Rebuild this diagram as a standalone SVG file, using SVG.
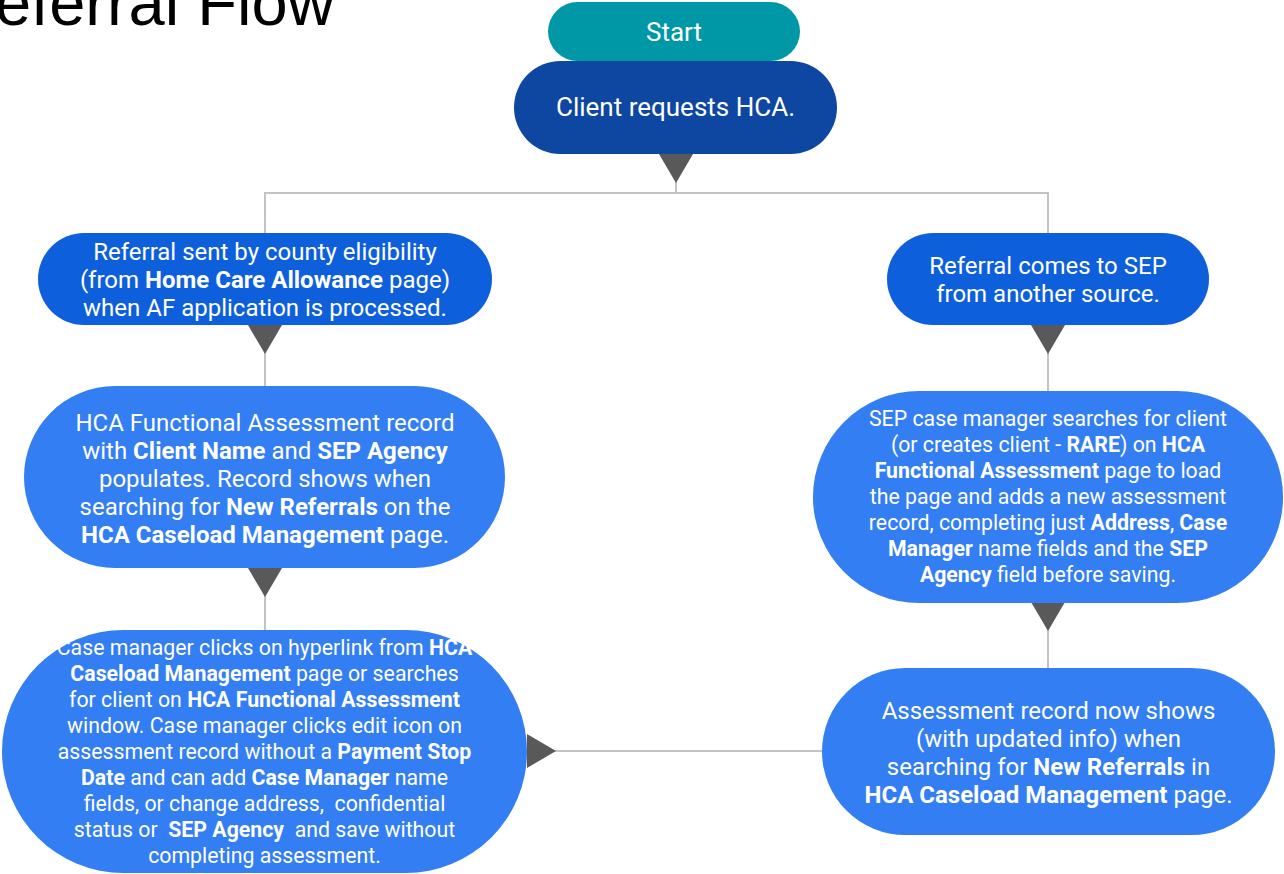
<svg xmlns="http://www.w3.org/2000/svg" width="1284" height="874" viewBox="0 0 1284 874">
<style>
.title{font-family:"Liberation Sans",Arial,sans-serif;font-size:65px;fill:#000}
.t{font-family:Roboto,"Noto Sans",sans-serif;fill:#fff;text-anchor:middle}
.s26{font-size:26px}
.s24{font-size:24px}
.s21{font-size:21.3px}
.b{font-weight:bold}
.conn{fill:none;stroke:#c3c3c3;stroke-width:2}
.start{fill:#0097a7}
.dark{fill:#0d47a1}
.mid{fill:#0e5fdc}
.light{fill:#327ef2}
</style>
<defs>
<marker id="tri" viewBox="0 0 29 34" refX="0" refY="17" markerWidth="29" markerHeight="34" orient="auto" markerUnits="userSpaceOnUse">
<path d="M0,0 L29,17 L0,34 Z" fill="#595959"/>
</marker>
</defs>
<rect width="1284" height="874" fill="#fff"/>
<text class="title" x="-52" y="25">Referral Flow</text>

<g id="connectors">
<path class="conn" d="M676,154 V193 H265 V233" marker-start="url(#tri)"/>
<path class="conn" d="M676,193 H1048 V233"/>
<path class="conn" d="M265,325 V386" marker-start="url(#tri)"/>
<path class="conn" d="M265,568 V630" marker-start="url(#tri)"/>
<path class="conn" d="M1048,325 V391" marker-start="url(#tri)"/>
<path class="conn" d="M1048,602 V668" marker-start="url(#tri)"/>
<path class="conn" d="M527,751 H822" marker-start="url(#tri)"/>
</g>

<g id="start">
<rect class="start" x="548" y="2" width="252" height="59" rx="29.5"/>
<text class="t s26" x="674" y="41">Start</text>
</g>

<g id="client-requests">
<rect class="dark" x="514" y="61" width="323" height="93" rx="46.5"/>
<text class="t s26" x="675.5" y="116">Client requests HCA.</text>
</g>

<g id="referral-county">
<rect class="mid" x="38" y="233" width="454" height="92" rx="46"/>
<text class="t s24" x="265" y="260">Referral sent by county eligibility</text>
<text class="t s24" x="265" y="288">(from <tspan class="b">Home Care Allowance</tspan> page)</text>
<text class="t s24" x="265" y="316">when AF application is processed.</text>
</g>

<g id="hca-record">
<rect class="light" x="24" y="386" width="481" height="182" rx="91"/>
<text class="t s24" x="265" y="431">HCA Functional Assessment record</text>
<text class="t s24" x="265" y="459">with <tspan class="b">Client Name</tspan> and <tspan class="b">SEP Agency</tspan></text>
<text class="t s24" x="265" y="487">populates. Record shows when</text>
<text class="t s24" x="265" y="515">searching for <tspan class="b">New Referrals</tspan> on the</text>
<text class="t s24" x="265" y="543"><tspan class="b">HCA Caseload Management</tspan> page.</text>
</g>

<g id="case-manager-clicks">
<rect class="light" x="2" y="630" width="525" height="243" rx="121.5"/>
<text class="t s21" x="264.5" y="655">Case manager clicks on hyperlink from <tspan class="b">HCA</tspan></text>
<text class="t s21" x="264.5" y="681"><tspan class="b">Caseload Management</tspan> page or searches</text>
<text class="t s21" x="264.5" y="707">for client on <tspan class="b">HCA Functional Assessment</tspan></text>
<text class="t s21" x="264.5" y="733">window. Case manager clicks edit icon on</text>
<text class="t s21" x="264.5" y="759">assessment record without a <tspan class="b">Payment Stop</tspan></text>
<text class="t s21" x="264.5" y="785"><tspan class="b">Date</tspan> and can add <tspan class="b">Case Manager</tspan> name</text>
<text class="t s21" x="264.5" y="811" xml:space="preserve">fields, or change address,  confidential</text>
<text class="t s21" x="264.5" y="837" xml:space="preserve">status or  <tspan class="b">SEP Agency</tspan>  and save without</text>
<text class="t s21" x="264.5" y="863">completing assessment.</text>
</g>

<g id="referral-other">
<rect class="mid" x="887" y="233" width="322" height="92" rx="46"/>
<text class="t s24" x="1048" y="274">Referral comes to SEP</text>
<text class="t s24" x="1048" y="302">from another source.</text>
</g>

<g id="sep-searches">
<rect class="light" x="813" y="391" width="470" height="212" rx="106"/>
<text class="t s21" x="1048" y="426">SEP case manager searches for client</text>
<text class="t s21" x="1048" y="452">(or creates client - <tspan class="b">RARE</tspan>) on <tspan class="b">HCA</tspan></text>
<text class="t s21" x="1048" y="478"><tspan class="b">Functional Assessment</tspan> page to load</text>
<text class="t s21" x="1048" y="504">the page and adds a new assessment</text>
<text class="t s21" x="1048" y="530">record, completing just <tspan class="b">Address</tspan>, <tspan class="b">Case</tspan></text>
<text class="t s21" x="1048" y="556"><tspan class="b">Manager</tspan> name fields and the <tspan class="b">SEP</tspan></text>
<text class="t s21" x="1048" y="582"><tspan class="b">Agency</tspan> field before saving.</text>
</g>

<g id="record-shows">
<rect class="light" x="822" y="668" width="453" height="167" rx="83.5"/>
<text class="t s24" x="1048.5" y="719">Assessment record now shows</text>
<text class="t s24" x="1048.5" y="747">(with updated info) when</text>
<text class="t s24" x="1048.5" y="775">searching for <tspan class="b">New Referrals</tspan> in</text>
<text class="t s24" x="1048.5" y="803"><tspan class="b">HCA Caseload Management</tspan> page.</text>
</g>
</svg>
